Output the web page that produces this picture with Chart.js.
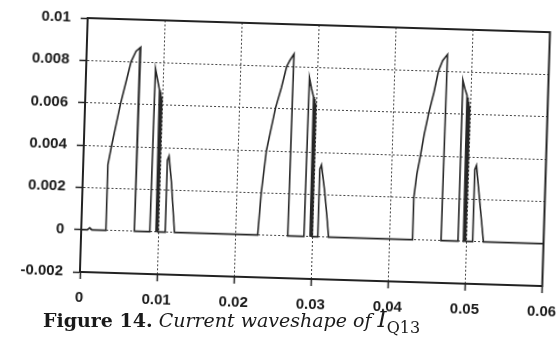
<!DOCTYPE html>
<html>
<head>
<meta charset="utf-8">
<script src="https://cdn.jsdelivr.net/npm/chart.js@4"></script>
<style>
  body { margin: 0; background: #fff; overflow: hidden; }
  #wrap { position: relative; width: 560px; height: 349px; }
  #chart { position: absolute; left: 0; top: 0; transform: rotate(1.75deg); transform-origin: 280px 174.5px; }
  #caption {
    position: absolute; left: 43px; top: 308px; white-space: nowrap;
    font-family: "DejaVu Serif", serif; font-size: 19px; line-height: 1; color: #1a1a1a;
  }
  #caption b { font-weight: bold; }
  #caption i { font-style: italic; }
  #caption .big { font-size: 23px; font-style: italic; }
  #caption sub { font-size: 16px; vertical-align: -6px; }
</style>
</head>
<body>
<div id="wrap">
  <canvas id="chart" width="560" height="349"></canvas>
  <div id="caption"><b>Figure 14.</b> <i>Current waveshape of</i> <span class="big">I</span><sub>Q13</sub></div>
</div>
<script>
// tick labels
const xTickLabels = ['0', '0.01', '0.02', '0.03', '0.04', '0.05', '0.06']
const yTickLabels = ['-0.002', '0', '0.002', '0.004', '0.006', '0.008', '0.01']

// waveform of I_Q13 (time in s, current in A)
const timeS = [
  0, 0.0008, 0.0011, 0.0014, 0.0032, 0.0032, 0.0036, 0.0041, 0.0046, 0.0052, 0.0058, 0.0064, 0.0070, 0.0069,
  0.0089, 0.0090, 0.0093, 0.0096, 0.0097, 0.00973, 0.00977, 0.0098, 0.00983, 0.00987, 0.0099, 0.00993, 0.00997, 0.0100,
  0.0109, 0.0109, 0.0111, 0.0115, 0.0118, 0.0121,
  0.0229, 0.0232, 0.0237, 0.0242, 0.0247, 0.0254, 0.0260, 0.0264, 0.0269, 0.0268,
  0.0289, 0.0290, 0.0293, 0.0296, 0.0297, 0.02973, 0.02977, 0.0298, 0.02983, 0.02987, 0.0299, 0.02993, 0.02997, 0.0300,
  0.0307, 0.0307, 0.0309, 0.0314, 0.0318, 0.0321,
  0.0430, 0.0430, 0.0433, 0.0437, 0.0441, 0.0446, 0.0452, 0.0457, 0.0462, 0.0468, 0.0467,
  0.0489, 0.0489, 0.0492, 0.0495, 0.0496, 0.04963, 0.04967, 0.0497, 0.04973, 0.04977, 0.0498, 0.04983, 0.04987, 0.0499,
  0.0508, 0.0508, 0.0510, 0.0514, 0.0518, 0.0522, 0.0600
]
const currentA = [
  0, 0, 0.0001, 0, 0, 0.0031, 0.0040, 0.0050, 0.0060, 0.0070, 0.0080, 0.0085, 0.0087, 0,
  0, 0.0077, 0.0072, 0.0067, 0, 0.0066, 0, 0.0065, 0, 0.0064, 0, 0.0063, 0, 0,
  0, 0.0034, 0.0036, 0.0024, 0.0012, 0,
  0, 0.0020, 0.0040, 0.0050, 0.0060, 0.0070, 0.0080, 0.0083, 0.0086, 0,
  0, 0.0075, 0.0070, 0.0066, 0, 0.0065, 0, 0.0064, 0, 0.0063, 0, 0.0062, 0, 0,
  0, 0.0032, 0.0034, 0.0022, 0.0010, 0,
  0, 0.0020, 0.0031, 0.0040, 0.0050, 0.0060, 0.0070, 0.0080, 0.0085, 0.0088, 0,
  0, 0.0076, 0.0072, 0.0069, 0, 0.0068, 0, 0.0066, 0, 0.0065, 0, 0.0064, 0, 0,
  0, 0.0034, 0.0036, 0.0024, 0.0012, 0, 0
]

const points = timeS.map((t, i) => ({ x: t, y: currentA[i] }))

// box round the plot area (top and right edges)
const frame = {
  id: 'frame',
  afterDraw(chart) {
    const { ctx, chartArea: a } = chart
    ctx.save()
    ctx.strokeStyle = '#222'
    ctx.lineWidth = 2
    ctx.strokeRect(a.left, a.top, a.right - a.left, a.bottom - a.top)
    ctx.restore()
  }
}

const tickFont = { family: '"Liberation Sans", Arial, sans-serif', size: 15, weight: 'bold' }

new Chart(document.getElementById('chart'), {
  type: 'scatter',
  data: {
    datasets: [{
      data: points,
      showLine: true,
      borderColor: '#262626',
      borderWidth: 1.6,
      pointRadius: 0,
      tension: 0
    }]
  },
  options: {
    responsive: false,
    animation: false,
    layout: { padding: { top: 24, right: 14.5, left: 0, bottom: 0 } },
    plugins: { legend: { display: false }, tooltip: { enabled: false } },
    scales: {
      x: {
        type: 'linear', min: 0, max: 0.06,
        afterFit: s => { s.height = 71; s.paddingLeft = 0; s.paddingRight = 0 },
        ticks: {
          stepSize: 0.01, padding: 10, color: '#1a1a1a', font: tickFont,
          callback: (v, i) => xTickLabels[i]
        },
        grid: { color: '#444', lineWidth: 1, tickLength: 7, tickColor: '#222', tickWidth: 1.5 },
        border: { display: true, color: '#222', width: 2, dash: [2, 2] }
      },
      y: {
        min: -0.002, max: 0.01,
        afterFit: s => { s.width = 83; s.paddingTop = 0; s.paddingBottom = 0 },
        ticks: {
          stepSize: 0.002, padding: 10, color: '#1a1a1a', font: tickFont,
          callback: (v, i) => yTickLabels[i]
        },
        grid: { color: '#444', lineWidth: 1, tickLength: 7, tickColor: '#222', tickWidth: 1.5 },
        border: { display: true, color: '#222', width: 2, dash: [2, 2] }
      }
    }
  },
  plugins: [frame]
})
</script>
</body>
</html>
